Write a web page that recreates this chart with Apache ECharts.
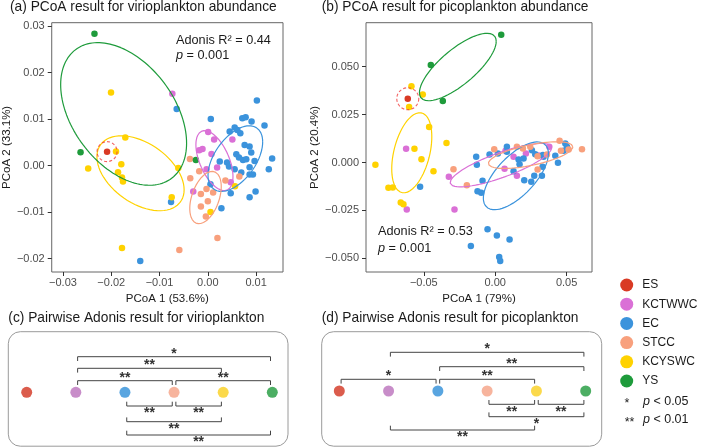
<!DOCTYPE html>
<html><head><meta charset="utf-8">
<script src="https://cdn.jsdelivr.net/npm/echarts@6/dist/echarts.min.js"></script>
<style>html,body{margin:0;padding:0;background:#fff}#c{width:702px;height:448px}</style>
</head><body><div id="c"></div><script>
// ---------- data ----------
const groups = ['ES','KCTWWC','EC','STCC','KCYSWC','YS'];
const groupColors = ['#D93A24','#DA70D6','#3B93DC','#F8A07D','#FFD200','#1E9B3B'];
const pairColors  = ['#D2331F','#BA70BC','#2F8FD8','#F5A184','#FAD01E','#1F9A3C'];

// (a) virioplankton PCoA points
const ES_a = [[-0.02087,0.0030]];
const KCTWWC_a = [[-0.00735,0.01546],[0.00007,0.00723],[0.0013,0.00558],[0.00508,0.00558],[-0.0011,0.00358],[-0.00178,0.00329],[0.00076,0.00251],[-0.00027,-0.00079],[0.00192,-0.00043],[-0.00302,-0.00558],[0.00474,-0.00358]];
const EC_a = [[0.01016,0.01396],[-0.00645,0.01217],[0.00062,0.01002],[0.00714,0.01017],[0.00783,0.01038],[0.00906,0.00945],[0.01174,0.00859],[0.00556,0.00816],[0.00453,0.0073],[0.00611,0.00766],[0.00673,0.00694],[0.00762,0.00444],[0.00865,0.00408],[0.00899,0.00279],[0.0059,0.00243],[0.00645,0.00172],[0.00728,0.00122],[0.00796,0.00136],[0.00968,0.001],[0.00247,0.00086],[0.00398,0.00064],[0.00439,-0.00021],[0.00556,-0.00079],[0.00865,-0.00036],[0.00693,-0.0015],[0.00865,-0.00193],[0.00934,-0.00193],[0.01332,0.0015],[0.01263,-0.00079],[0.00055,-0.00401],[0.00474,-0.00594],[0.00989,-0.00558],[0.00865,-0.0068],[0.00281,-0.00916],[-0.00762,-0.0078],[-0.014,-0.02048]];
const STCC_a = [[-0.00371,0.00143],[-0.00178,-0.00122],[-0.00364,-0.00272],[-0.00027,-0.00501],[0.0011,-0.0058],[-0.00144,-0.00609],[0.0,-0.00766],[-0.00144,-0.00881],[-0.00041,-0.01095],[0.00364,-0.00322],[0.00652,-0.00236],[0.00199,-0.01554],[-0.0059,-0.01811]];
const KCYSWC_a = [[-0.02005,0.01568],[-0.01709,0.00601],[-0.01902,0.00301],[-0.01792,0.00029],[-0.02478,-0.00064],[-0.0186,-0.00143],[-0.01778,-0.00258],[-0.01757,-0.00344],[-0.00611,-0.0005],[-0.00748,-0.0068],[0.00055,-0.00995],[0.00563,-0.00444],[-0.01778,-0.01768]];
const YS_a = [[-0.02348,0.02835],[-0.02636,0.00286],[-0.00247,0.00122]];

// (b) picoplankton PCoA points
const ES_b = [[-0.06124,0.0333]];
const KCTWWC_b = [[-0.06241,0.00715],[-0.06194,-0.02458],[-0.02852,-0.02458],[-0.03249,-0.0075],[0.00725,0.0061],[0.00655,-0.00331],[0.01519,-0.00697],[0.02151,0.00471],[0.03787,0.00819],[0.01286,0.00296],[0.03039,0.00366]];
const EC_b = [[-0.01332,0.00296],[-0.01286,-0.00122],[-0.00888,-0.00959],[-0.01239,-0.01499],[-0.00982,-0.01586],[-0.00397,0.00418],[0.00187,0.00471],[0.00818,0.00819],[0.01636,0.00157],[0.01706,-0.00087],[0.01286,-0.00453],[0.02034,-0.00924],[0.02525,-0.01011],[0.02735,-0.00697],[0.03273,-0.00697],[0.03319,-0.00227],[0.02805,0.00436],[0.02571,0.00645],[0.03343,0.00384],[0.04208,0.00349],[0.04395,-0.00017],[0.04909,0.00994],[0.05026,0.00819],[0.04792,0.0061],[-0.0526,-0.01273],[-0.00538,-0.03487],[0.00117,-0.03818],[0.01005,-0.04027],[-0.01706,-0.04358],[0.0028,-0.04934],[0.00351,-0.05143],[0.0339,0.00296],[0.01987,0.00209],[0.00818,0.00558]];
const STCC_b = [[-0.0007,0.00697],[-0.02922,-0.00349],[-0.01987,-0.01185],[0.0194,0.00732],[0.02454,0.00819],[0.02969,0.00331],[0.02969,-0.00366],[0.04511,0.01133],[0.04605,0.0061],[0.05143,0.0068],[0.06078,0.00697],[0.03623,0.00418],[0.01519,0.00819]];
const KCYSWC_b = [[-0.05867,0.03975],[-0.05073,0.03556],[-0.06031,0.02894],[-0.04628,0.01848],[-0.03413,0.01011],[-0.05657,0.00715],[-0.05166,0.00174],[-0.08392,-0.00122],[-0.04324,-0.00453],[-0.0748,-0.01325],[-0.07176,-0.01308],[-0.06615,-0.02092],[-0.06428,-0.02179]];
const YS_b = [[0.00421,0.06677],[-0.04511,0.05091],[-0.0367,0.03208]];

// confidence ellipses: [centerX, centerY, halfRangeX, halfRangeY, correlation]
const ellipses_a = {KCTWWC:[0.00137,0.00107,0.00384,0.00644,-0.53], EC:[0.0057,0.0015,0.00566,0.00705,0.51], STCC:[-0.00048,-0.00687,0.00326,0.00562,0.42], KCYSWC:[-0.01394,-0.00165,0.00903,0.00805,-0.44], YS:[-0.01744,0.0111,0.01304,0.01532,-0.41]};
const ellipses_b = {KCTWWC:[0.00397,-0.0014,0.03553,0.01133,0.8], EC:[0.01449,-0.00697,0.02279,0.0177,0.66], STCC:[0.02478,0.00384,0.02957,0.00697,0.62], KCYSWC:[-0.05844,0.00506,0.01403,0.02092,0.4], YS:[-0.02618,0.04986,0.02688,0.01761,0.76]};

const ticksX_a = [-0.03,-0.02,-0.01,0,0.01];
const ticksY_a = [-0.02,-0.01,0,0.01,0.02,0.03];
const ticksX_b = [-0.05,0,0.05];
const ticksY_b = [-0.05,-0.025,0,0.025,0.05];

// pairwise adonis brackets: [fromGroup, toGroup, level, significance]
const pairs_c = [[1,5,3,'*'],[1,4,2,'**'],[1,3,1,'**'],[3,5,1,'**'],[2,3,-1,'**'],[3,4,-1,'**'],[2,4,-2,'**'],[2,5,-3,'**']];
const pairs_d = [[1,5,3,'*'],[2,5,2,'**'],[0,2,1,'*'],[2,4,1,'**'],[3,4,-1,'**'],[4,5,-1,'**'],[3,5,-2,'*'],[1,4,-3,'**']];

// ---------- chart ----------
const FONT = "'Liberation Sans', Arial, Helvetica, sans-serif";
const pointsA = {ES:ES_a,KCTWWC:KCTWWC_a,EC:EC_a,STCC:STCC_a,KCYSWC:KCYSWC_a,YS:YS_a};
const pointsB = {ES:ES_b,KCTWWC:KCTWWC_b,EC:EC_b,STCC:STCC_b,KCYSWC:KCYSWC_b,YS:YS_b};

function ellipsePts(p){
  const [cx,cy,hx,hy,r]=p, s=Math.sqrt(1-r*r), out=[];
  for(let i=0;i<=144;i++){const t=i/144*2*Math.PI; out.push([cx+hx*Math.cos(t), cy+hy*(r*Math.cos(t)+s*Math.sin(t))]);}
  return out;
}
function fmt(dec){return v=>{ if(Math.abs(v)<1e-12) return (0).toFixed(dec); return (v<0?'\u2212':'')+Math.abs(v).toFixed(dec);};}

function valueAxis(gridIndex, min, max, ticks, dec, name, isY, nameGap){
  return {
    type:'value', gridIndex, min, max, name, nameLocation:'middle', nameGap,
    nameTextStyle:{fontFamily:FONT,fontSize:11.5,color:'#1a1a1a'},
    axisLine:{show:false,onZero:false}, splitLine:{show:false},
    axisTick:{show:true,length:4,inside:false,customValues:ticks,lineStyle:{color:'#333',width:1}},
    axisLabel:{customValues:ticks,formatter:fmt(dec),fontFamily:FONT,fontSize:11,color:'#4d4d4d',margin:isY?7:5}
  };
}

const series=[];
[[pointsA,ellipses_a,0],[pointsB,ellipses_b,1]].forEach(([pts,ells,gi])=>{
  groups.forEach((g,i)=>{
    series.push({type:'scatter',name:g,xAxisIndex:gi,yAxisIndex:gi,data:pts[g],symbolSize:6.5,
      itemStyle:{color:groupColors[i],opacity:1},z:2+i*0.01,silent:true});
  });
  groups.forEach((g,i)=>{
    if(!ells[g]) return;
    series.push({type:'line',name:g+' ellipse',xAxisIndex:gi,yAxisIndex:gi,data:ellipsePts(ells[g]),
      showSymbol:false,smooth:false,lineStyle:{color:groupColors[i],width:1.2},z:3,silent:true});
  });
  series.push({type:'scatter',name:'ES ring',xAxisIndex:gi,yAxisIndex:gi,data:pts.ES,symbolSize:gi?22:20,
    itemStyle:{color:'rgba(0,0,0,0)',borderColor:'#F03A3A',borderWidth:1.1,borderType:[3,2.2]},z:4,silent:true});
});

function bracketSeries(pairs, gi, topOff, botOff){
  series.push({type:'scatter',name:'pair dots '+gi,xAxisIndex:gi,yAxisIndex:gi,
    data:groups.map((g,i)=>({value:[i,0],itemStyle:{color:pairColors[i]}})),symbolSize:11,z:3,silent:true});
  series.push({type:'custom',name:'brackets '+gi,xAxisIndex:gi,yAxisIndex:gi,silent:true,z:2,
    data:pairs.map(p=>[p[0],p[1],p[2]]),
    renderItem:(params,api)=>{
      const p=pairs[params.dataIndex];
      const lv=p[2];
      const off = lv>0 ? topOff[lv-1] : -botOff[-lv-1];
      const a=api.coord([p[0],off]), b=api.coord([p[1],off]);
      const x1=a[0]+1.8, x2=b[0]-1.8, y=a[1];
      const t = lv>0 ? 4.3 : -4.3;
      return {type:'group',children:[
        {type:'polyline',shape:{points:[[x1,y+t],[x1,y],[x2,y],[x2,y+t]]},style:{stroke:'#444',lineWidth:1,fill:null}},
        {type:'text',x:(x1+x2)/2,y: lv>0 ? y+4 : y+14.5,style:{text:p[3],fill:'#333',font:'bold 14px '+FONT,align:'center',verticalAlign:'bottom'}}
      ]};
    }});
}
bracketSeries(pairs_c,2,[11.6,24,35.6],[13.7,29.4,42.7]);
bracketSeries(pairs_d,3,[11.7,24.3,38.7],[13.3,25.7,39]);

const hiddenAxis=(gi,min,max)=>({type:'value',gridIndex:gi,min,max,show:false});

const chart=echarts.init(document.getElementById('c'),null,{renderer:'canvas'});
chart.setOption({
  animation:false,
  backgroundColor:'#fff',
  grid:[
    {left:51,top:22.7,width:232,height:249.3,show:true,borderColor:'#666',borderWidth:1,backgroundColor:'#fff'},
    {left:366,top:22.7,width:226,height:249.3,show:true,borderColor:'#666',borderWidth:1,backgroundColor:'#fff'},
    {left:26.7,top:342.3,width:245.6,height:100},
    {left:339.3,top:341,width:246.4,height:100}
  ],
  xAxis:[
    valueAxis(0,-0.03233,0.01557,ticksX_a,2,'PCoA 1 (53.6%)',false,14),
    valueAxis(1,-0.0905,0.0678,ticksX_b,2,'PCoA 1 (79%)',false,14),
    hiddenAxis(2,0,5), hiddenAxis(3,0,5)
  ],
  yAxis:[
    valueAxis(0,-0.02286,0.0307,ticksY_a,2,'PCoA 2 (33.1%)',true,34),
    valueAxis(1,-0.0572,0.0730,ticksY_b,3,'PCoA 2 (20.4%)',true,40),
    hiddenAxis(2,-50,50), hiddenAxis(3,-50,50)
  ],
  legend:{data:groups,orient:'vertical',left:615.2,top:273.5,icon:'circle',itemWidth:13,itemHeight:13,itemGap:6.2,
    selectedMode:false,textStyle:{fontFamily:FONT,fontSize:12,color:'#1a1a1a',lineHeight:13,padding:[0,0,0,4]}},
  graphic:[
    {type:'rect',shape:{x:8.3,y:331.7,width:279.7,height:114.5,r:12},style:{fill:'none',stroke:'#9a9a9a',lineWidth:1},z:0,silent:true},
    {type:'rect',shape:{x:321.7,y:331.7,width:280,height:114.5,r:12},style:{fill:'none',stroke:'#9a9a9a',lineWidth:1},z:0,silent:true},
    {type:'text',x:10,y:7.5,style:{text:'(a) PCoA result for virioplankton abundance',font:'13.75px '+FONT,fill:'#1a1a1a',verticalAlign:'middle'}},
    {type:'text',x:321.7,y:7.5,style:{text:'(b) PCoA result for picoplankton abundance',font:'13.75px '+FONT,fill:'#1a1a1a',verticalAlign:'middle'}},
    {type:'text',x:8.3,y:318.3,style:{text:'(c) Pairwise Adonis result for virioplankton',font:'13.75px '+FONT,fill:'#1a1a1a',verticalAlign:'middle'}},
    {type:'text',x:321.7,y:318.3,style:{text:'(d) Pairwise Adonis result for picoplankton',font:'13.75px '+FONT,fill:'#1a1a1a',verticalAlign:'middle'}},
    {type:'text',x:176,y:40.7,style:{text:'Adonis R\u00B2 = 0.44',font:'12.7px '+FONT,fill:'#1a1a1a',verticalAlign:'middle'}},
    {type:'text',x:176,y:55,style:{text:'{i|p} = 0.001',font:'12.7px '+FONT,fill:'#1a1a1a',verticalAlign:'middle',
      rich:{i:{fontStyle:'italic',fontSize:12.7,fontFamily:FONT,fill:'#1a1a1a'}}}},
    {type:'text',x:378,y:231,style:{text:'Adonis R\u00B2 = 0.53',font:'12.7px '+FONT,fill:'#1a1a1a',verticalAlign:'middle'}},
    {type:'text',x:378,y:248,style:{text:'{i|p} = 0.001',font:'12.7px '+FONT,fill:'#1a1a1a',verticalAlign:'middle',
      rich:{i:{fontStyle:'italic',fontSize:12.7,fontFamily:FONT,fill:'#1a1a1a'}}}},
    {type:'text',x:627,y:404,style:{text:'*',font:'12.5px '+FONT,fill:'#1a1a1a',align:'center',verticalAlign:'middle'}},
    {type:'text',x:629.5,y:423,style:{text:'**',font:'12.5px '+FONT,fill:'#1a1a1a',align:'center',verticalAlign:'middle'}},
    {type:'text',x:643,y:401.3,style:{text:'{i|p} < 0.05',font:'12.5px '+FONT,fill:'#1a1a1a',verticalAlign:'middle',
      rich:{i:{fontStyle:'italic',fontSize:12.5,fontFamily:FONT,fill:'#1a1a1a'}}}},
    {type:'text',x:643,y:420,style:{text:'{i|p} < 0.01',font:'12.5px '+FONT,fill:'#1a1a1a',verticalAlign:'middle',
      rich:{i:{fontStyle:'italic',fontSize:12.5,fontFamily:FONT,fill:'#1a1a1a'}}}}
  ],
  series
});
</script></body></html>
